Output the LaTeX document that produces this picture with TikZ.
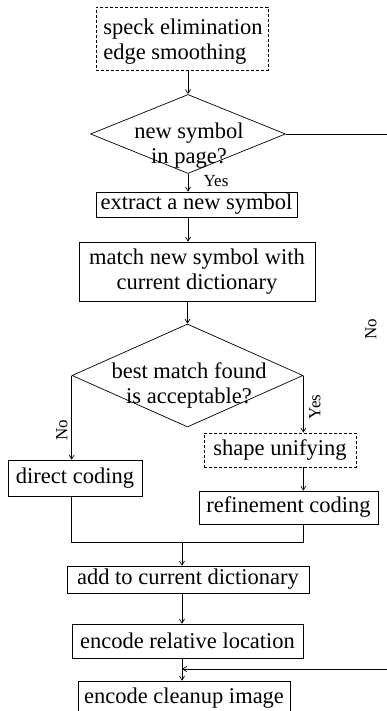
\documentclass[tikz,border=0pt]{standalone}
\usepackage{fontspec}
\setmainfont{Liberation Serif}
\usetikzlibrary{arrows.meta,shapes.geometric}
\begin{document}
\begin{tikzpicture}[x=1pt,y=-1pt,
  txt/.style={font=\fontsize{22.5}{25}\selectfont},
  box/.style={draw,line width=0.7pt,inner sep=0pt,align=center,txt},
  dbox/.style={box,dash pattern=on 3pt off 2pt},
  dia/.style={draw,diamond,line width=0.7pt,inner sep=0pt},
  lab/.style={inner sep=0pt,align=center,txt},
  small/.style={inner sep=0pt,font=\fontsize{17}{19}\selectfont},
  arr/.style={line width=0.7pt,-{Straight Barb[length=4pt,width=5pt]}},
  ln/.style={line width=0.7pt}]
\useasboundingbox (0,0) rectangle (386,711);
% boxes
\node[dbox,minimum width=172pt,minimum height=63pt] (top) at (182,38.5) {};
\node[lab,align=left] (topt) at (183,42) {speck elimination\\edge smoothing};
\node[dia,minimum width=195pt,minimum height=79pt] (d1) at (188,134) {};
\node[lab] (d1t) at (189,146) {new symbol\\in page?};
\node[box,minimum width=201pt,minimum height=25pt] (ext) at (196.5,204.5) {extract a new symbol};
\node[box,minimum width=236pt,minimum height=59pt] (match) at (197,271.5) {match new symbol with\\current dictionary};
\node[dia,minimum width=231pt,minimum height=103pt] (d2) at (187.5,375.5) {};
\node[lab] (d2t) at (189,385) {best match found\\is acceptable?};
\node[dbox,minimum width=152pt,minimum height=34pt] (su) at (280,450) {shape unifying};
\node[box,minimum width=134pt,minimum height=36pt] (dc) at (75,478) {direct coding};
\node[box,minimum width=179pt,minimum height=33pt] (ref) at (288.5,507.5) {refinement coding};
\node[box,minimum width=242pt,minimum height=27pt] (add) at (188,579.5) {add to current dictionary};
\node[box,minimum width=231pt,minimum height=34pt] (rel) at (187.5,641) {encode relative location};
\node[box,minimum width=212pt,minimum height=35pt] (clean) at (184,698.5) {encode cleanup image};
% coordinates
\coordinate (join) at (182,542);
\coordinate (rr) at (392,134);
\coordinate (fb) at (182,669);
% connectors
\draw[arr] (top.south -| d1.north) -- (d1.north);
\draw[arr] (d1.south) -- (d1.south |- ext.north);
\draw[arr] (d1.south |- ext.south) -- (d1.south |- match.north);
\draw[arr] (d2.north |- match.south) -- (d2.north);
\draw[arr] (d2.west) -- (d2.west |- dc.north);
\draw[arr] (d2.east) -- (d2.east |- su.north);
\draw[arr] (d2.east |- su.south) -- (d2.east |- ref.north);
\draw[ln] (d2.west |- dc.south) |- (d2.east |- join) -- (d2.east |- ref.south);
\draw[arr] (join) -- (join |- add.north);
\draw[arr] (join |- add.south) -- (join |- rel.north);
\draw[arr] (join |- rel.south) -- (join |- clean.north);
\draw[arr] (d1.east) -- (rr) |- (fb);
% labels
\node[small] (yes1) at (216,181) {Yes};
\node[small,rotate=90] (yes2) at (315,407) {Yes};
\node[small,rotate=90] (no1) at (62,430) {No};
\node[small,rotate=90] (no2) at (371,329) {No};
\end{tikzpicture}
\end{document}
